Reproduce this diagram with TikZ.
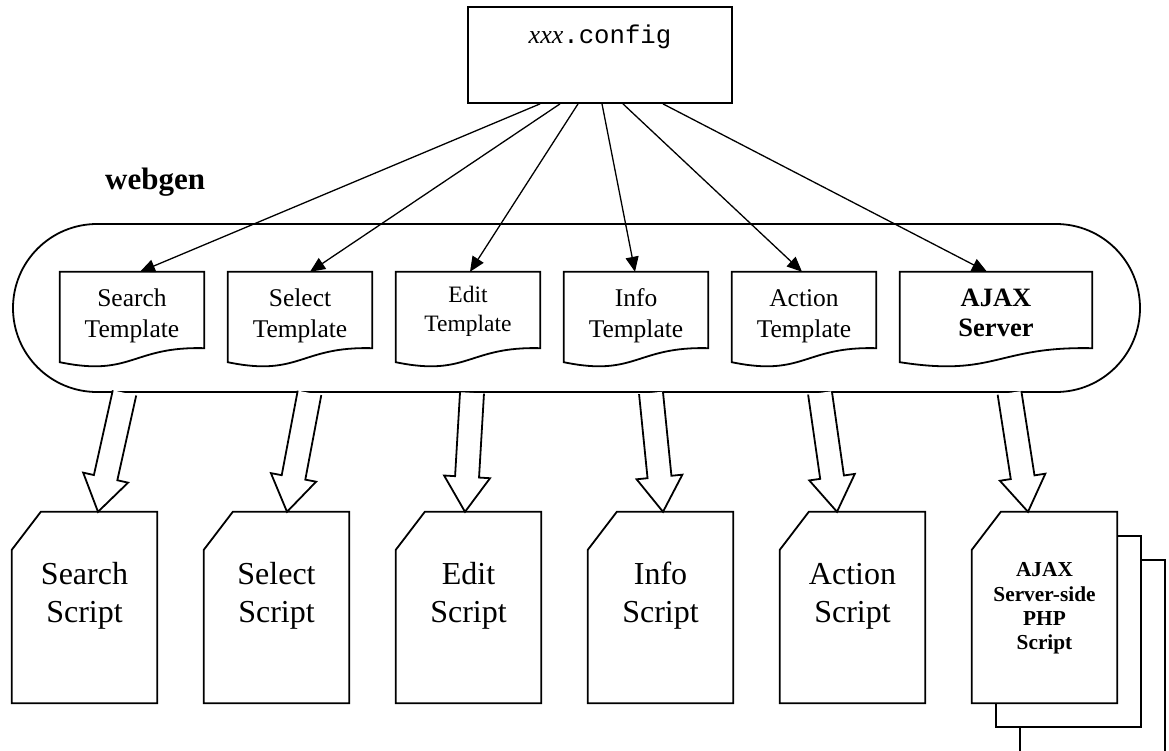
\documentclass[tikz,border=0pt]{standalone}
\usepackage{fontspec}
\setmainfont{Liberation Serif}
\setmonofont{Liberation Mono}
\usetikzlibrary{arrows.meta,calc,shapes.misc}

% centred lines whose baseline is that of the first line
\newcommand\stack[1]{{\setlength{\tabcolsep}{0pt}\renewcommand{\arraystretch}{1}\begin{tabular}[t]{c}#1\end{tabular}}}

% wavy-bottomed document outline drawn round a placeholder node
\newcommand\docshape[1]{%
  \draw[shapeline, fill=white] (#1.north west) -- (#1.north east) -- (#1.south east)
    .. controls ($(#1.south)+(0,-2)$) and ($(#1.south)+(0,29)$) .. ($(#1.south west)+(0,14)$) -- cycle;}

% sheet with a cut top-left corner
\newcommand\cardshape[1]{%
  \draw[shapeline, fill=white] ($(#1.north west)+(0,38)$) -- ($(#1.north west)+(29,0)$) -- (#1.north east)
    -- (#1.south east) -- (#1.south west) -- cycle;}

% hollow block arrow from #1 to the tip #2
\newcommand\hollowarrow[2]{%
  \coordinate (ha-base) at ($(#2)!35pt!(#1)$);
  \draw[shapeline, fill=white] ($(#1)!12pt!90:(#2)$) -- ($(ha-base)!12pt!-90:(#1)$)
    -- ($(ha-base)!23pt!-90:(#1)$) -- (#2) -- ($(ha-base)!23pt!90:(#1)$)
    -- ($(ha-base)!12pt!90:(#1)$) -- ($(#1)!12pt!-90:(#2)$);}

\begin{document}
\begin{tikzpicture}[x=1pt, y=-1pt,
  shapeline/.style={line width=1.8pt, line join=miter},
  conn/.style={-{Triangle[length=15pt,width=13pt]}, line width=1.3pt},
  tplbox/.style={minimum width=144pt, minimum height=76pt, inner sep=0pt},
  scriptbox/.style={minimum width=145pt, minimum height=191pt, inner sep=0pt},
  tpltext/.style={anchor=base, inner sep=0pt, font=\fontsize{25.5}{31}\selectfont},
  scripttext/.style={anchor=base, inner sep=0pt, font=\fontsize{32}{38}\selectfont}]

\useasboundingbox (0,0) rectangle (1169,751);
\fill[white] (0,0) rectangle (1169,751);

% configuration file
\node[draw, shapeline, minimum width=264pt, minimum height=96pt, inner sep=0pt] (cfg) at (600,55) {};
\node[anchor=base, inner sep=0pt] (cfgtxt) at ($(cfg.center)+(0,-11)$)
  {\fontsize{26}{30}\selectfont\itshape xxx\upshape\ttfamily\fontsize{25.7}{30}\selectfont .config};

% webgen container
\node[anchor=base west, inner sep=0pt, font=\bfseries\fontsize{31}{37}\selectfont] (lbl) at (105,190) {webgen};
\node[draw, shapeline, rounded rectangle, minimum width=1127pt, minimum height=168pt, inner sep=0pt] (webgen) at (576.5,308) {};

% templates
\node[tplbox] (t1) at (132,310) {};
\node[tplbox] (t2) at (300,310) {};
\node[tplbox] (t3) at (468,310) {};
\node[tplbox] (t4) at (636,310) {};
\node[tplbox] (t5) at (804,310) {};
\node[tplbox, minimum width=192pt] (t6) at (996,310) {};
\foreach \t in {t1,t2,t3,t4,t5,t6} {\docshape{\t}}
\node[tpltext] (t1txt) at ($(t1.north)+(0,35)$) {\stack{Search\\Template}};
\node[tpltext] (t2txt) at ($(t2.north)+(0,35)$) {\stack{Select\\Template}};
\node[tpltext, font=\fontsize{23.5}{29}\selectfont] (t3txt) at ($(t3.north)+(0,31)$) {\stack{Edit\\Template}};
\node[tpltext] (t4txt) at ($(t4.north)+(0,35)$) {\stack{Info\\Template}};
\node[tpltext] (t5txt) at ($(t5.north)+(0,35)$) {\stack{Action\\Template}};
\node[tpltext, font=\bfseries\fontsize{26.5}{30}\selectfont] (t6txt) at ($(t6.north)+(0,35)$) {\stack{AJAX\\Server}};

% configuration feeds every template
\draw[conn] ([xshift=-60pt]cfg.south) -- ([xshift=8pt]t1.north);
\draw[conn] ([xshift=-40pt]cfg.south) -- ([xshift=10pt]t2.north);
\draw[conn] ([xshift=-22pt]cfg.south) -- ([xshift=2pt]t3.north);
\draw[conn] ([xshift=2pt]cfg.south) -- ([xshift=-1pt]t4.north);
\draw[conn] ([xshift=23pt]cfg.south) -- ([xshift=-2pt]t5.north);
\draw[conn] ([xshift=63pt]cfg.south) -- ([xshift=-9pt]t6.north);

% generated scripts
\node[scriptbox] (s1) at (84.5,607.5) {};
\node[scriptbox] (s2) at (276.5,607.5) {};
\node[scriptbox] (s3) at (468.5,607.5) {};
\node[scriptbox] (s4) at (660.5,607.5) {};
\node[scriptbox] (s5) at (852.5,607.5) {};
\node[scriptbox] (s6) at (1044.5,607.5) {};
% pages stacked behind the PHP script
\draw[shapeline, fill=white] ($(s6.north west)+(48,48)$) rectangle ($(s6.south east)+(48,80)$);
\draw[shapeline, fill=white] ($(s6.north west)+(24,24)$) rectangle ($(s6.south east)+(24,24)$);
\foreach \s in {s1,s2,s3,s4,s5,s6} {\cardshape{\s}}
\node[scripttext] (s1txt) at ($(s1.north)+(0,73)$) {\stack{Search\\Script}};
\node[scripttext] (s2txt) at ($(s2.north)+(0,73)$) {\stack{Select\\Script}};
\node[scripttext] (s3txt) at ($(s3.north)+(0,73)$) {\stack{Edit\\Script}};
\node[scripttext] (s4txt) at ($(s4.north)+(0,73)$) {\stack{Info\\Script}};
\node[scripttext] (s5txt) at ($(s5.north)+(0,73)$) {\stack{Action\\Script}};
\node[scripttext, font=\bfseries\fontsize{21.3}{24.3}\selectfont] (s6txt) at ($(s6.north)+(0,65)$)
  {\stack{AJAX\\Server-side\\PHP\\Script}};

% generation arrows
\coordinate (w1) at ([xshift=-452pt]webgen.south);
\coordinate (w2) at ([xshift=-267pt]webgen.south);
\coordinate (w3) at ([xshift=-104.5pt]webgen.south);
\coordinate (w4) at ([xshift=74.5pt]webgen.south);
\coordinate (w5) at ([xshift=243.5pt]webgen.south);
\coordinate (w6) at ([xshift=433pt]webgen.south);
\coordinate (g1) at ([xshift=13.5pt]s1.north);
\coordinate (g2) at ([xshift=10.5pt]s2.north);
\coordinate (g3) at ([xshift=-3.5pt]s3.north);
\coordinate (g4) at ([xshift=2.5pt]s4.north);
\coordinate (g5) at ([xshift=-15.5pt]s5.north);
\coordinate (g6) at ([xshift=-16.5pt]s6.north);
\hollowarrow{w1}{g1}
\hollowarrow{w2}{g2}
\hollowarrow{w3}{g3}
\hollowarrow{w4}{g4}
\hollowarrow{w5}{g5}
\hollowarrow{w6}{g6}
\end{tikzpicture}
\end{document}
